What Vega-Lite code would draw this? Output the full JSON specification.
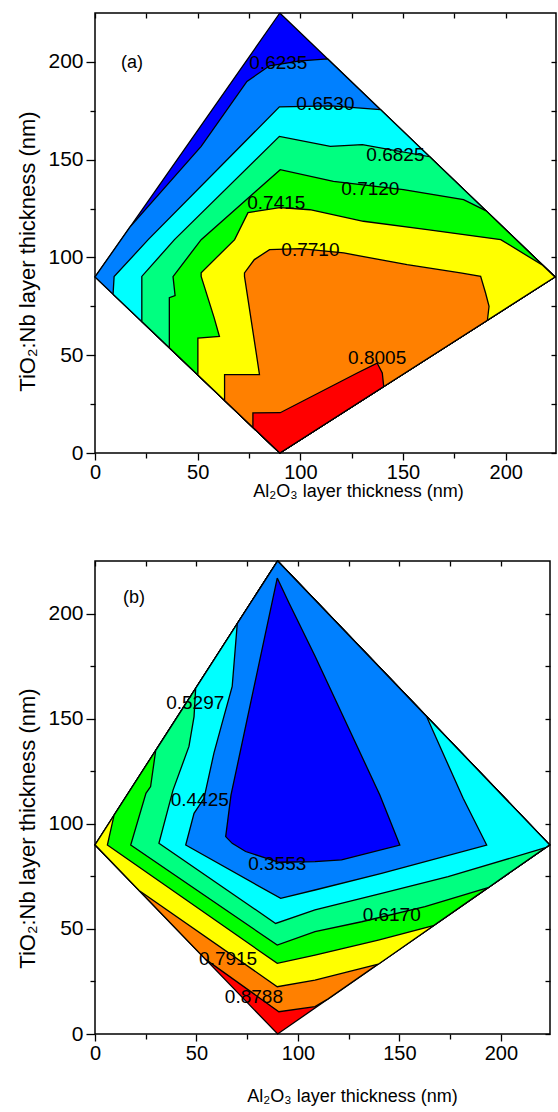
{
 "$schema": "https://vega.github.io/schema/vega-lite/v6.json",
 "padding": {"left": 16, "top": 9, "right": 2, "bottom": 0},
 "background": "white",
 "spacing": 56,
 "config": {
  "font": "Liberation Sans",
  "view": {"stroke": "black", "strokeWidth": 1.5},
  "axis": {"tickColor": "black", "labelColor": "black", "titleColor": "black", "tickWidth": 1.3, "labelFont": "Liberation Sans", "titleFont": "Liberation Sans", "titleFontWeight": "normal", "grid": false, "domain": false, "labelFlush": false, "labelOverlap": false, "labelBound": false},
  "text": {"font": "Liberation Sans", "color": "black"}
 },
 "datasets": {
  "polyA": [
   {"poly":"P0","band":"0","i":0,"x":90,"y":225},{"poly":"P0","band":"0","i":1,"x":224,"y":90},{"poly":"P0","band":"0","i":2,"x":90,"y":0},{"poly":"P0","band":"0","i":3,"x":0,"y":90},{"poly":"P0","band":"0","i":4,"x":90,"y":225},
   {"poly":"P1","band":"1","i":0,"x":17,"y":115.5},{"poly":"P1","band":"1","i":1,"x":51.7,"y":156.8},{"poly":"P1","band":"1","i":2,"x":74,"y":190},{"poly":"P1","band":"1","i":3,"x":85,"y":198},{"poly":"P1","band":"1","i":4,"x":100,"y":200.5},{"poly":"P1","band":"1","i":5,"x":113.3,"y":201.5},{"poly":"P1","band":"1","i":6,"x":224,"y":90},{"poly":"P1","band":"1","i":7,"x":90,"y":0},{"poly":"P1","band":"1","i":8,"x":0,"y":90},{"poly":"P1","band":"1","i":9,"x":17,"y":115.5},
   {"poly":"P2","band":"2","i":0,"x":8.8,"y":81.2},{"poly":"P2","band":"2","i":1,"x":9.3,"y":90.2},{"poly":"P2","band":"2","i":2,"x":25.9,"y":109.1},{"poly":"P2","band":"2","i":3,"x":89.8,"y":177},{"poly":"P2","band":"2","i":4,"x":115,"y":177.5},{"poly":"P2","band":"2","i":5,"x":139,"y":175.6},{"poly":"P2","band":"2","i":6,"x":224,"y":90},{"poly":"P2","band":"2","i":7,"x":90,"y":0},{"poly":"P2","band":"2","i":8,"x":8.8,"y":81.2},
   {"poly":"P3","band":"3","i":0,"x":22.8,"y":67.2},{"poly":"P3","band":"3","i":1,"x":22.8,"y":90.3},{"poly":"P3","band":"3","i":2,"x":38.7,"y":109.1},{"poly":"P3","band":"3","i":3,"x":89.8,"y":161.9},{"poly":"P3","band":"3","i":4,"x":114.6,"y":156.8},{"poly":"P3","band":"3","i":5,"x":130.2,"y":157.7},{"poly":"P3","band":"3","i":6,"x":163,"y":151.5},{"poly":"P3","band":"3","i":7,"x":224,"y":90},{"poly":"P3","band":"3","i":8,"x":90,"y":0},{"poly":"P3","band":"3","i":9,"x":22.8,"y":67.2},
   {"poly":"P4","band":"4","i":0,"x":36.2,"y":53.8},{"poly":"P4","band":"4","i":1,"x":36.2,"y":79.4},{"poly":"P4","band":"4","i":2,"x":39,"y":80.5},{"poly":"P4","band":"4","i":3,"x":38,"y":90.2},{"poly":"P4","band":"4","i":4,"x":51.7,"y":109.1},{"poly":"P4","band":"4","i":5,"x":90.2,"y":144.9},{"poly":"P4","band":"4","i":6,"x":116.1,"y":138.9},{"poly":"P4","band":"4","i":7,"x":150.2,"y":134.7},{"poly":"P4","band":"4","i":8,"x":179.5,"y":129.6},{"poly":"P4","band":"4","i":9,"x":190.5,"y":123.8},{"poly":"P4","band":"4","i":10,"x":224,"y":90},{"poly":"P4","band":"4","i":11,"x":90,"y":0},{"poly":"P4","band":"4","i":12,"x":36.2,"y":53.8},
   {"poly":"P5","band":"5","i":0,"x":50.1,"y":39.9},{"poly":"P5","band":"5","i":1,"x":50.1,"y":58.8},{"poly":"P5","band":"5","i":2,"x":60.6,"y":59.6},{"poly":"P5","band":"5","i":3,"x":58,"y":69.2},{"poly":"P5","band":"5","i":4,"x":51.7,"y":90.3},{"poly":"P5","band":"5","i":5,"x":51.7,"y":92.2},{"poly":"P5","band":"5","i":6,"x":68,"y":109.1},{"poly":"P5","band":"5","i":7,"x":74.5,"y":122.9},{"poly":"P5","band":"5","i":8,"x":90,"y":125.5},{"poly":"P5","band":"5","i":9,"x":104.7,"y":124.4},{"poly":"P5","band":"5","i":10,"x":130.7,"y":118.5},{"poly":"P5","band":"5","i":11,"x":161.8,"y":114.2},{"poly":"P5","band":"5","i":12,"x":197.6,"y":109.1},{"poly":"P5","band":"5","i":13,"x":218,"y":96},{"poly":"P5","band":"5","i":14,"x":224,"y":90},{"poly":"P5","band":"5","i":15,"x":90,"y":0},{"poly":"P5","band":"5","i":16,"x":50.1,"y":39.9},
   {"poly":"P6","band":"6","i":0,"x":63.1,"y":26.9},{"poly":"P6","band":"6","i":1,"x":63.1,"y":40.1},{"poly":"P6","band":"6","i":2,"x":80.1,"y":40.1},{"poly":"P6","band":"6","i":3,"x":78.5,"y":51.2},{"poly":"P6","band":"6","i":4,"x":72.8,"y":90.3},{"poly":"P6","band":"6","i":5,"x":72.8,"y":92.1},{"poly":"P6","band":"6","i":6,"x":77.6,"y":98.9},{"poly":"P6","band":"6","i":7,"x":85,"y":104},{"poly":"P6","band":"6","i":8,"x":100,"y":104.5},{"poly":"P6","band":"6","i":9,"x":121.1,"y":102.3},{"poly":"P6","band":"6","i":10,"x":152,"y":96.3},{"poly":"P6","band":"6","i":11,"x":178,"y":92.1},{"poly":"P6","band":"6","i":12,"x":187.8,"y":90.3},{"poly":"P6","band":"6","i":13,"x":190.2,"y":81.8},{"poly":"P6","band":"6","i":14,"x":191.9,"y":75},{"poly":"P6","band":"6","i":15,"x":191.1,"y":67.9},{"poly":"P6","band":"6","i":16,"x":90,"y":0},{"poly":"P6","band":"6","i":17,"x":63.1,"y":26.9},
   {"poly":"P7","band":"7","i":0,"x":76.9,"y":13.1},{"poly":"P7","band":"7","i":1,"x":76.9,"y":20.5},{"poly":"P7","band":"7","i":2,"x":90.2,"y":20.6},{"poly":"P7","band":"7","i":3,"x":127.7,"y":40.9},{"poly":"P7","band":"7","i":4,"x":137.4,"y":46},{"poly":"P7","band":"7","i":5,"x":139.9,"y":40.9},{"poly":"P7","band":"7","i":6,"x":140.6,"y":34},{"poly":"P7","band":"7","i":7,"x":90,"y":0},{"poly":"P7","band":"7","i":8,"x":76.9,"y":13.1}
  ],
  "polyB": [
   {"poly":"P0","band":"7","i":0,"x":90,"y":225},{"poly":"P0","band":"7","i":1,"x":224,"y":90},{"poly":"P0","band":"7","i":2,"x":90,"y":0},{"poly":"P0","band":"7","i":3,"x":0,"y":90},{"poly":"P0","band":"7","i":4,"x":90,"y":225},
   {"poly":"P1","band":"6","i":0,"x":54.5,"y":35.5},{"poly":"P1","band":"6","i":1,"x":90.6,"y":10.6},{"poly":"P1","band":"6","i":2,"x":108.4,"y":13},{"poly":"P1","band":"6","i":3,"x":114.9,"y":16.7},{"poly":"P1","band":"6","i":4,"x":224,"y":90},{"poly":"P1","band":"6","i":5,"x":90,"y":225},{"poly":"P1","band":"6","i":6,"x":0,"y":90},{"poly":"P1","band":"6","i":7,"x":54.5,"y":35.5},
   {"poly":"P2","band":"5","i":0,"x":21.7,"y":68.3},{"poly":"P2","band":"5","i":1,"x":89.8,"y":22.5},{"poly":"P2","band":"5","i":2,"x":108.4,"y":25.6},{"poly":"P2","band":"5","i":3,"x":139.6,"y":33.2},{"poly":"P2","band":"5","i":4,"x":224,"y":90},{"poly":"P2","band":"5","i":5,"x":90,"y":225},{"poly":"P2","band":"5","i":6,"x":0,"y":90},{"poly":"P2","band":"5","i":7,"x":21.7,"y":68.3},
   {"poly":"P3","band":"4","i":0,"x":9.4,"y":104.1},{"poly":"P3","band":"4","i":1,"x":6.1,"y":89.9},{"poly":"P3","band":"4","i":2,"x":89.8,"y":33.6},{"poly":"P3","band":"4","i":3,"x":108.4,"y":37.5},{"poly":"P3","band":"4","i":4,"x":139.6,"y":44.7},{"poly":"P3","band":"4","i":5,"x":166.7,"y":51.5},{"poly":"P3","band":"4","i":6,"x":224,"y":90},{"poly":"P3","band":"4","i":7,"x":90,"y":225},{"poly":"P3","band":"4","i":8,"x":9.4,"y":104.1},
   {"poly":"P4","band":"3","i":0,"x":29.9,"y":134.8},{"poly":"P4","band":"3","i":1,"x":90,"y":225},{"poly":"P4","band":"3","i":2,"x":224,"y":90},{"poly":"P4","band":"3","i":3,"x":193.7,"y":69.6},{"poly":"P4","band":"3","i":4,"x":162.6,"y":60.6},{"poly":"P4","band":"3","i":5,"x":131.4,"y":53.4},{"poly":"P4","band":"3","i":6,"x":108.4,"y":48.7},{"poly":"P4","band":"3","i":7,"x":89.8,"y":42.3},{"poly":"P4","band":"3","i":8,"x":17.6,"y":89.9},{"poly":"P4","band":"3","i":9,"x":25.1,"y":114.5},{"poly":"P4","band":"3","i":10,"x":27.4,"y":117.7},{"poly":"P4","band":"3","i":11,"x":29.9,"y":134.8},
   {"poly":"P5","band":"2","i":0,"x":49.6,"y":164.4},{"poly":"P5","band":"2","i":1,"x":90,"y":225},{"poly":"P5","band":"2","i":2,"x":224,"y":90},{"poly":"P5","band":"2","i":3,"x":222,"y":88.6},{"poly":"P5","band":"2","i":4,"x":174,"y":74.9},{"poly":"P5","band":"2","i":5,"x":141.2,"y":66.9},{"poly":"P5","band":"2","i":6,"x":108.4,"y":59},{"poly":"P5","band":"2","i":7,"x":89,"y":52.6},{"poly":"P5","band":"2","i":8,"x":31.5,"y":90.7},{"poly":"P5","band":"2","i":9,"x":38.4,"y":115.9},{"poly":"P5","band":"2","i":10,"x":46.3,"y":136.8},{"poly":"P5","band":"2","i":11,"x":48.8,"y":151},{"poly":"P5","band":"2","i":12,"x":49.6,"y":164.4},
   {"poly":"P6","band":"1","i":0,"x":70.1,"y":195.2},{"poly":"P6","band":"1","i":1,"x":90,"y":225},{"poly":"P6","band":"1","i":2,"x":163.4,"y":151},{"poly":"P6","band":"1","i":3,"x":181.4,"y":112.1},{"poly":"P6","band":"1","i":4,"x":193,"y":89.9},{"poly":"P6","band":"1","i":5,"x":141.2,"y":76.4},{"poly":"P6","band":"1","i":6,"x":108.4,"y":68.5},{"poly":"P6","band":"1","i":7,"x":91.5,"y":64.5},{"poly":"P6","band":"1","i":8,"x":44.7,"y":89.9},{"poly":"P6","band":"1","i":9,"x":48.8,"y":105},{"poly":"P6","band":"1","i":10,"x":53.7,"y":112.1},{"poly":"P6","band":"1","i":11,"x":58.6,"y":133.6},{"poly":"P6","band":"1","i":12,"x":63.5,"y":151},{"poly":"P6","band":"1","i":13,"x":67.6,"y":165.3},{"poly":"P6","band":"1","i":14,"x":70.1,"y":195.2},
   {"poly":"P7","band":"0","i":0,"x":89.8,"y":216.9},{"poly":"P7","band":"0","i":1,"x":95.6,"y":205},{"poly":"P7","band":"0","i":2,"x":108.4,"y":179.8},{"poly":"P7","band":"0","i":3,"x":115.3,"y":165.5},{"poly":"P7","band":"0","i":4,"x":140.4,"y":113.6},{"poly":"P7","band":"0","i":5,"x":150.2,"y":89.9},{"poly":"P7","band":"0","i":6,"x":121.5,"y":82.8},{"poly":"P7","band":"0","i":7,"x":108.4,"y":82},{"poly":"P7","band":"0","i":8,"x":90.6,"y":81.7},{"poly":"P7","band":"0","i":9,"x":74.2,"y":86.8},{"poly":"P7","band":"0","i":10,"x":67.6,"y":90.7},{"poly":"P7","band":"0","i":11,"x":64.4,"y":93.9},{"poly":"P7","band":"0","i":12,"x":67,"y":113.6},{"poly":"P7","band":"0","i":13,"x":89.8,"y":216.9}
  ],
  "labA": [
   {"t":"0.6235","x":89.3,"y":199.6},{"t":"0.6530","x":112.2,"y":178.7},{"t":"0.6825","x":146.3,"y":152.6},{"t":"0.7120","x":134.1,"y":135.2},{"t":"0.7415","x":88.3,"y":128},{"t":"0.7710","x":104.9,"y":104},{"t":"0.8005","x":137.4,"y":48.6}
  ],
  "labB": [
   {"t":"0.5297","x":49.4,"y":157.4},{"t":"0.4425","x":51.6,"y":111.3},{"t":"0.3553","x":89.8,"y":80.9},{"t":"0.6170","x":146.2,"y":56.6},{"t":"0.7915","x":65.6,"y":35.6},{"t":"0.8788","x":78.3,"y":17.7}
  ],
  "tagA": [{"t":"(a)","x":18,"y":199.6}],
  "tagB": [{"t":"(b)","x":19.2,"y":207.4}]
 },
 "vconcat": [
  {
   "width": 461, "height": 440,
   "resolve": {"axis": {"x": "independent", "y": "independent"}},
   "layer": [
    {
     "data": {"name": "polyA"},
     "mark": {"type": "line", "filled": true, "stroke": "black", "strokeWidth": 1.3, "fillOpacity": 1},
     "encoding": {
      "x": {"field": "x", "type": "quantitative", "scale": {"domain": [0, 224.5], "nice": false, "zero": false},
            "axis": {"orient": "bottom", "values": [0, 50, 100, 150, 200], "tickSize": 7, "labelFontSize": 20, "labelPadding": 2, "title": "Al₂O₃ layer thickness (nm)", "titleFontSize": 18, "titlePadding": 0, "titleX": 263}},
      "y": {"field": "y", "type": "quantitative", "scale": {"domain": [0, 225], "nice": false, "zero": false},
            "axis": {"orient": "left", "values": [0, 50, 100, 150, 200], "tickSize": 9, "labelFontSize": 21, "labelPadding": 3, "title": "TiO₂:Nb layer thickness (nm)", "titleFontSize": 22, "titlePadding": 8, "titleY": 238}},
      "color": {"field": "band", "type": "nominal", "scale": {"domain": ["0","1","2","3","4","5","6","7"], "range": ["#0000ff","#0080ff","#00ffff","#00ff80","#00ff00","#ffff00","#ff8000","#ff0000"]}, "legend": null},
      "detail": {"field": "poly"},
      "order": {"field": "i", "type": "quantitative"}
     }
    },
    {
     "data": {"name": "labA"},
     "mark": {"type": "text", "fontSize": 19},
     "encoding": {
      "x": {"field": "x", "type": "quantitative", "scale": {"domain": [0, 224.5], "nice": false, "zero": false},
            "axis": {"orient": "bottom", "values": [25, 75, 125, 175], "tickSize": 5, "labels": false, "title": null}},
      "y": {"field": "y", "type": "quantitative", "scale": {"domain": [0, 225], "nice": false, "zero": false},
            "axis": {"orient": "left", "values": [25, 75, 125, 175], "tickSize": 5, "labels": false, "title": null}},
      "text": {"field": "t"}
     }
    },
    {
     "data": {"name": "tagA"},
     "mark": {"type": "text", "fontSize": 18},
     "encoding": {
      "x": {"field": "x", "type": "quantitative", "scale": {"domain": [0, 224.5], "nice": false, "zero": false},
            "axis": {"orient": "top", "values": [0, 25, 50, 75, 100, 125, 150, 175, 200], "tickSize": -5, "labels": false, "title": null}},
      "y": {"field": "y", "type": "quantitative", "scale": {"domain": [0, 225], "nice": false, "zero": false},
            "axis": {"orient": "right", "values": [0, 25, 50, 75, 100, 125, 150, 175, 200], "tickSize": -5, "labels": false, "title": null}},
      "text": {"field": "t"}
     }
    }
   ]
  },
  {
   "width": 455, "height": 473,
   "resolve": {"axis": {"x": "independent", "y": "independent"}},
   "layer": [
    {
     "data": {"name": "polyB"},
     "mark": {"type": "line", "filled": true, "stroke": "black", "strokeWidth": 1.3, "fillOpacity": 1},
     "encoding": {
      "x": {"field": "x", "type": "quantitative", "scale": {"domain": [0, 224.2], "nice": false, "zero": false},
            "axis": {"orient": "bottom", "values": [0, 50, 100, 150, 200], "tickSize": 7, "labelFontSize": 20, "labelPadding": 2, "title": "Al₂O₃ layer thickness (nm)", "titleFontSize": 18, "titlePadding": 24, "titleX": 257}},
      "y": {"field": "y", "type": "quantitative", "scale": {"domain": [0, 225], "nice": false, "zero": false},
            "axis": {"orient": "left", "values": [0, 50, 100, 150, 200], "tickSize": 9, "labelFontSize": 21, "labelPadding": 3, "title": "TiO₂:Nb layer thickness (nm)", "titleFontSize": 22, "titlePadding": 8, "titleY": 267}},
      "color": {"field": "band", "type": "nominal", "scale": {"domain": ["0","1","2","3","4","5","6","7"], "range": ["#0000ff","#0080ff","#00ffff","#00ff80","#00ff00","#ffff00","#ff8000","#ff0000"]}, "legend": null},
      "detail": {"field": "poly"},
      "order": {"field": "i", "type": "quantitative"}
     }
    },
    {
     "data": {"name": "labB"},
     "mark": {"type": "text", "fontSize": 19},
     "encoding": {
      "x": {"field": "x", "type": "quantitative", "scale": {"domain": [0, 224.2], "nice": false, "zero": false},
            "axis": {"orient": "bottom", "values": [25, 75, 125, 175], "tickSize": 5, "labels": false, "title": null}},
      "y": {"field": "y", "type": "quantitative", "scale": {"domain": [0, 225], "nice": false, "zero": false},
            "axis": {"orient": "left", "values": [25, 75, 125, 175], "tickSize": 5, "labels": false, "title": null}},
      "text": {"field": "t"}
     }
    },
    {
     "data": {"name": "tagB"},
     "mark": {"type": "text", "fontSize": 18},
     "encoding": {
      "x": {"field": "x", "type": "quantitative", "scale": {"domain": [0, 224.2], "nice": false, "zero": false},
            "axis": {"orient": "top", "values": [0, 25, 50, 75, 100, 125, 150, 175, 200], "tickSize": -5, "labels": false, "title": null}},
      "y": {"field": "y", "type": "quantitative", "scale": {"domain": [0, 225], "nice": false, "zero": false},
            "axis": {"orient": "right", "values": [0, 25, 50, 75, 100, 125, 150, 175, 200], "tickSize": -5, "labels": false, "title": null}},
      "text": {"field": "t"}
     }
    }
   ]
  }
 ]
}
